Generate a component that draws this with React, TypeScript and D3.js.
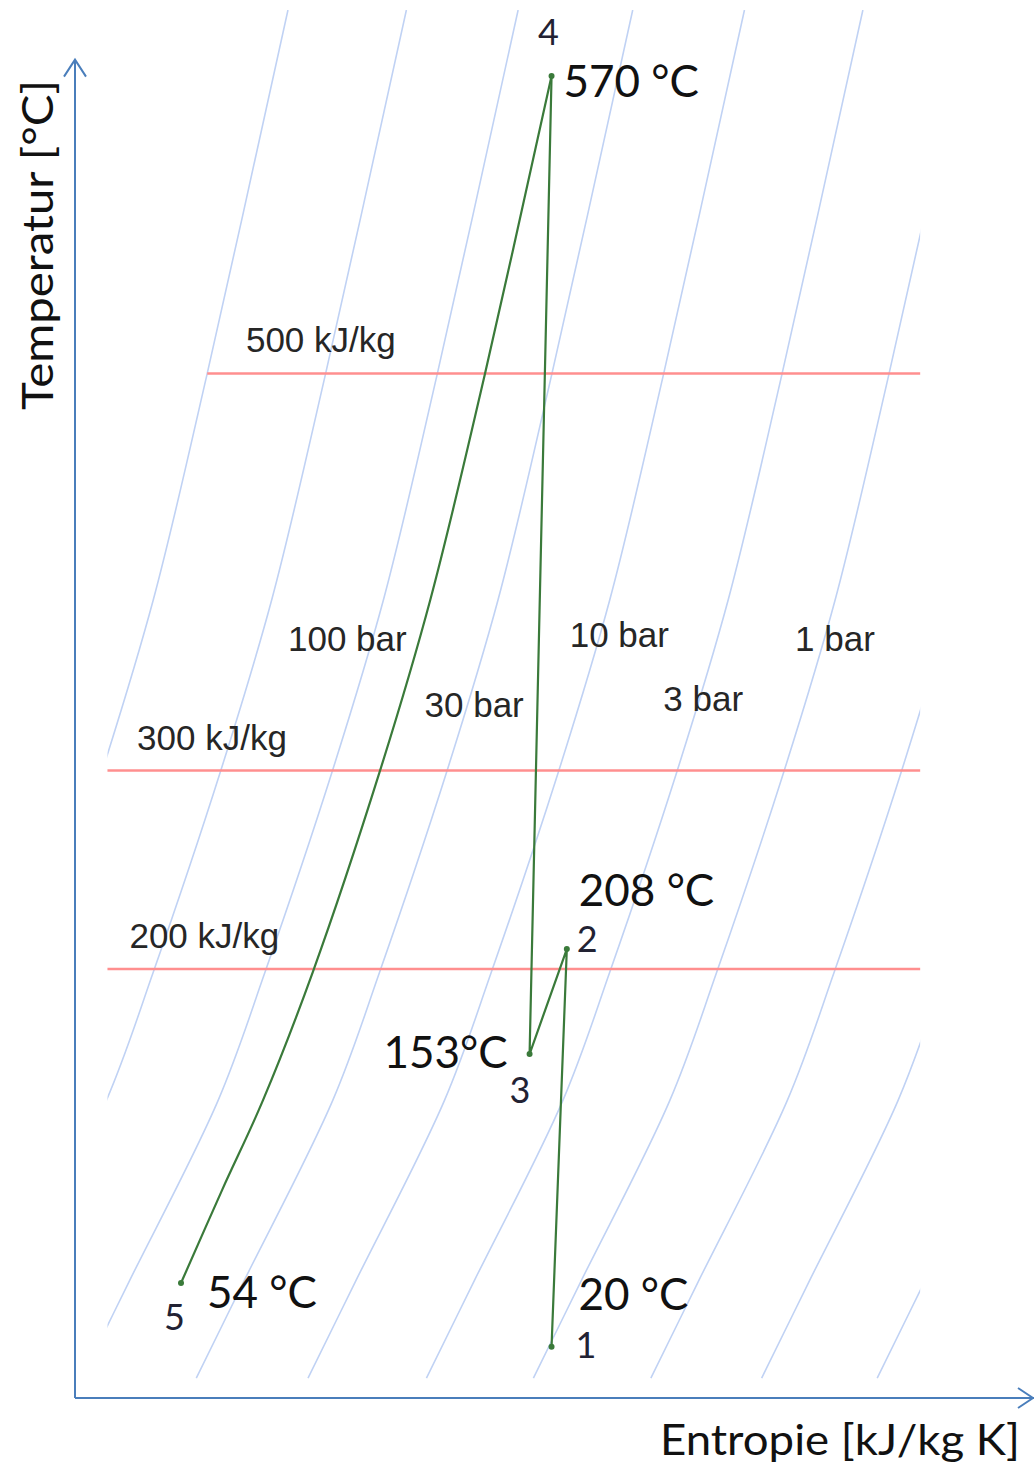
import React from "react";
import * as d3 from "d3";

const W = 1034;
const H = 1468;

// chart units: entropy (schematic) on x, temperature / enthalpy (cp ~ 1) on y
const sDomain = [0, 10];
const tDomain = [-16, 683];

// isobars: entropy where each one crosses the 200 line
const isobarS = [-0.42, 0.82, 1.99, 3.19, 4.36, 5.6, 6.72, 7.95, 9.11, 10.32];
// shape of one isobar: temperature and entropy shift
const isobarT = [683, 499, 386, 299, 198.5, 134, 42, -6];
const isobarDs = [2.65, 1.8, 1.24, 0.7, 0, -0.49, -1.43, -1.92];
const isobarNames = ["100 bar", "30 bar", "10 bar", "3 bar", "1 bar"];

// lines of constant enthalpy
const enthalpy = [200, 300, 500];

// process points 1..5
const pointNames = ["1", "2", "3", "4", "5"];
const pointS = [4.99, 5.15, 4.76, 4.99, 1.11];
const pointT = [9.8, 210.1, 157.2, 649.8, 41.9];
const pointTemps = ["20 °C", "208 °C", "153°C", "570 °C", "54 °C"];

// cooling 4 -> 5
const coolS = [4.99, 4.29, 3.72, 3.19, 2.49, 1.97, 1.54, 1.11];
const coolT = [649.8, 499.2, 385.9, 299.3, 198.5, 134.1, 88.7, 41.9];

// layout (not data)
const win = { s0: 0.34, s1: 8.85, t0: -7, t1: 683 };
const axisTopT = 658;
const barLabelPos = [[2.23, 360], [3.66, 327], [5.18, 362], [6.16, 330], [7.54, 360]];
const hLabelS = [0.57, 0.65, 1.79];
const nameOff = [[24, 11, "start"], [10, 3, "start"], [-20, 49, "start"], [-3, -31, "middle"], [-17, 47, "start"]];
const tempOff = [[27, -37, "start"], [12, -43, "start"], [-22, 14, "end"], [12, 21, "start"], [26, 25, "start"]];

const AXIS = "#4a7ebb";
const ISO = "#c0d2f4";
const RED = "#ff8f8f";
const GREEN = "#3a7a3a";
const TXT = "#262626";

export default function App() {
  const x = d3.scaleLinear().domain(sDomain).range([75, 1030]);
  const y = d3.scaleLinear().domain(tDomain).range([1398, 10]);
  const profile = d3.scaleLinear().domain(isobarT).range(isobarDs);

  const line = d3
    .line<[number, number]>()
    .x((d) => x(d[0]))
    .y((d) => y(d[1]))
    .curve(d3.curveCatmullRom);

  const isoPaths = isobarS.map((s0) =>
    line(isobarT.map((t, i) => [s0 + isobarDs[i], t] as [number, number]))
  );

  const coolPath = line(coolS.map((s, i) => [s, coolT[i]] as [number, number]));
  const straight = d3
    .line<number>()
    .x((i) => x(pointS[i]))
    .y((i) => y(pointT[i]))([0, 1, 2, 3]);

  const cx0 = x(win.s0), cx1 = x(win.s1), cy0 = y(win.t1), cy1 = y(win.t0);

  const x0 = x(0), y0 = y(tDomain[0]);
  const yTop = y(axisTopT);

  return (
    <svg width={W} height={H} style={{ position: "absolute", left: 0, top: 0, background: "#fff" }}>
      <defs>
        <clipPath id="plotClip">
          <rect x={cx0} y={cy0} width={cx1 - cx0} height={cy1 - cy0} />
        </clipPath>
      </defs>

      <g clipPath="url(#plotClip)" fill="none" stroke={ISO} strokeWidth={1.6}>
        {isoPaths.map((d, i) => (
          <path key={i} d={d || ""} />
        ))}
      </g>

      <g stroke={RED} strokeWidth={2.5}>
        {enthalpy.map((h) => {
          const sl = Math.max(win.s0, isobarS[0] + profile(h));
          return <line key={h} x1={x(sl)} x2={cx1} y1={y(h)} y2={y(h)} />;
        })}
      </g>

      <g fill="none" stroke={GREEN} strokeWidth={2.2}>
        <path d={straight || ""} />
        <path d={coolPath || ""} />
      </g>
      <g fill={GREEN}>
        {pointS.map((s, i) => (
          <circle key={i} cx={x(s)} cy={y(pointT[i])} r={3} />
        ))}
      </g>

      <g stroke={AXIS} strokeWidth={2} fill="none">
        <line x1={x0} y1={y0} x2={x0} y2={yTop} />
        <line x1={x0} y1={y0} x2={W} y2={y0} />
        <polyline points={`${x0 - 11},${yTop + 17} ${x0},${yTop} ${x0 + 11},${yTop + 17}`} />
        <polyline points={`${W - 16},${y0 - 10} ${W - 1},${y0} ${W - 16},${y0 + 10}`} />
      </g>

      <g fontFamily="'Liberation Sans', Arial, sans-serif" fontSize={35} fill={TXT}>
        {enthalpy.map((h, i) => (
          <text key={h} x={x(hLabelS[i])} y={y(h) - 21}>{`${h} kJ/kg`}</text>
        ))}
        {isobarNames.map((n, i) => (
          <text key={n} x={x(barLabelPos[i][0])} y={y(barLabelPos[i][1])}>{n}</text>
        ))}
      </g>

      <g fontFamily="Lato, 'Open Sans', sans-serif" fill="#111">
        {pointNames.map((n, i) => (
          <text
            key={n}
            x={x(pointS[i]) + (nameOff[i][0] as number)}
            y={y(pointT[i]) + (nameOff[i][1] as number)}
            textAnchor={nameOff[i][2] as string}
            fontSize={36}
            fill="#222233"
          >
            {n}
          </text>
        ))}
        {pointTemps.map((t, i) => (
          <text
            key={t}
            x={x(pointS[i]) + (tempOff[i][0] as number)}
            y={y(pointT[i]) + (tempOff[i][1] as number)}
            textAnchor={tempOff[i][2] as string}
            fontSize={44}
          >
            {t}
          </text>
        ))}
        <text x={660} y={1455} fontSize={43} textLength={360} lengthAdjust="spacingAndGlyphs">
          Entropie [kJ/kg K]
        </text>
        <text
          transform="translate(53,410) rotate(-90)"
          fontSize={43}
          textLength={330}
          lengthAdjust="spacingAndGlyphs"
        >
          Temperatur [°C]
        </text>
      </g>
    </svg>
  );
}
